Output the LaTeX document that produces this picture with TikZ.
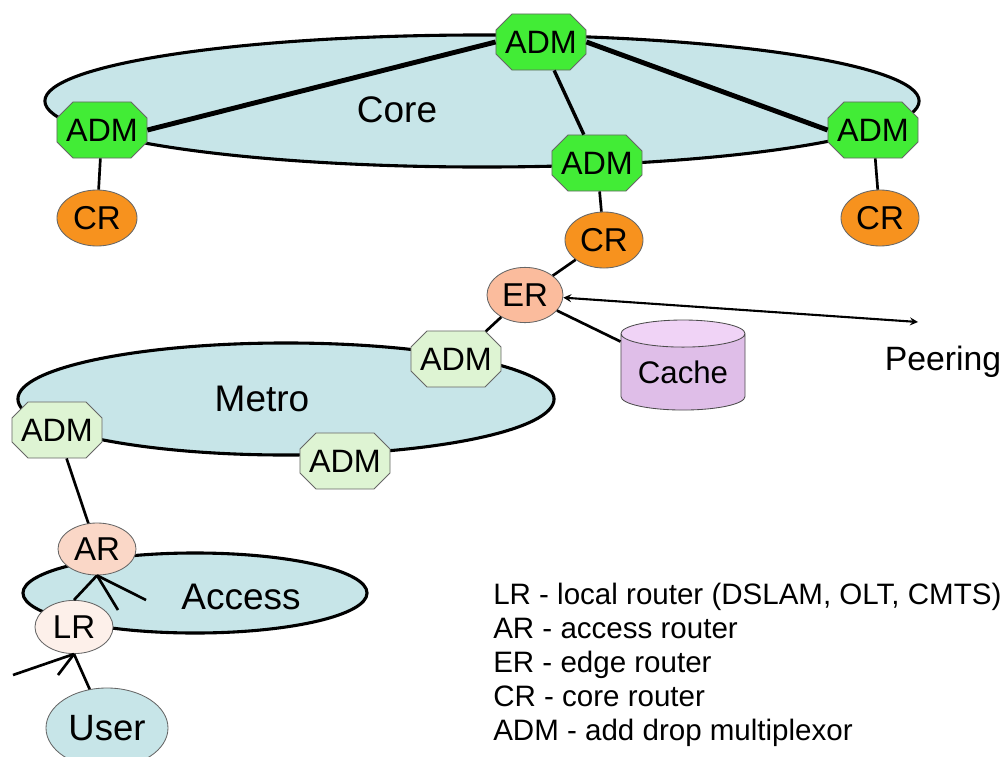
\documentclass[tikz,border=0pt]{standalone}
\usepackage{fontspec}
\setmainfont{Liberation Sans}
\usetikzlibrary{shapes.geometric,shapes.misc}
\definecolor{netblue}{HTML}{C7E5E8}
\definecolor{admgreen}{HTML}{42EC36}
\definecolor{metrogreen}{HTML}{DEF4D3}
\definecolor{crorange}{HTML}{F7921E}
\definecolor{ersalmon}{HTML}{FBBC9D}
\definecolor{arpink}{HTML}{FAD7C7}
\definecolor{lrpink}{HTML}{FDF0EA}
\definecolor{cachebody}{HTML}{DFBEE8}
\definecolor{cachetop}{HTML}{F0D3F6}

\begin{document}
\begin{tikzpicture}[x=0.025cm, y=-0.025cm,
	adm/.style={chamfered rectangle, chamfered rectangle xsep=0.2cm,
		chamfered rectangle ysep=0.2cm, draw=black!60, line width=0.6pt,
		minimum width=2.25cm, minimum height=1.4cm, inner sep=0pt,
		font=\fontsize{23}{23}\selectfont},
	router/.style={ellipse, draw=black!60, line width=0.6pt, inner sep=0pt,
		font=\fontsize{23.5}{23.5}\selectfont},
	net/.style={ellipse, draw, line width=2.2pt, fill=netblue, inner sep=0pt},
	netlabel/.style={font=\fontsize{26.3}{26.3}\selectfont}]

% frame %{{{2

	\useasboundingbox (0,0) rectangle (1001,757);

% networks %{{{2

	\node[net, minimum width=21.85cm, minimum height=3.3cm] (core) at (482,101) {};
	\node[net, minimum width=13.4cm, minimum height=2.8cm] (metro) at (286,399) {};
	\node[net, minimum width=8.6cm, minimum height=2cm] (access) at (195,593) {};

	\node[netlabel] (corelabel) at (397,110) {Core};
	\node[netlabel] (metrolabel) at (262,399) {Metro};
	\node[netlabel] (accesslabel) at (241,597) {Access};

% core nodes %{{{2

	\node[adm, fill=admgreen] (admT) at (541,42) {ADM};
	\node[adm, fill=admgreen] (admL) at (102,130) {ADM};
	\node[adm, fill=admgreen] (admM) at (597,163) {ADM};
	\node[adm, fill=admgreen] (admR) at (873,130) {ADM};

	\node[router, fill=crorange, minimum width=2cm, minimum height=1.4cm] (crL) at (97,218) {CR};
	\node[router, fill=crorange, minimum width=1.95cm, minimum height=1.4cm] (crM) at (604,240) {CR};
	\node[router, fill=crorange, minimum width=1.95cm, minimum height=1.4cm] (crR) at (880,218) {CR};

% edge, metro, access nodes %{{{2

	\node[router, fill=ersalmon, minimum width=1.9cm, minimum height=1.38cm] (ER) at (525,295) {ER};
	\node[cylinder, shape border rotate=90, aspect=0.3, draw=black!70, line width=0.6pt,
		cylinder uses custom fill, cylinder body fill=cachebody, cylinder end fill=cachetop,
		minimum width=3.1cm, minimum height=2.25cm, inner sep=0pt,
		font=\fontsize{22.2}{22.2}\selectfont] (cache) at (683,372) {Cache};

	\node[adm, fill=metrogreen] (admMT) at (456,359) {ADM};
	\node[adm, fill=metrogreen] (admML) at (57,430) {ADM};
	\node[adm, fill=metrogreen] (admMB) at (345,461) {ADM};

	\node[router, fill=arpink, minimum width=1.95cm, minimum height=1.3cm] (AR) at (97,549) {AR};
	\node[router, fill=lrpink, minimum width=1.95cm, minimum height=1.33cm] (LR) at (74,627) {LR};
	\node[net, line width=0.6pt, draw=black!60, minimum width=3.05cm, minimum height=2cm,
		font=\fontsize{26}{26}\selectfont] (user) at (107,728) {User};

	\node[font=\fontsize{24}{24}\selectfont] (peering) at (943,362) {Peering};

% free ends %{{{2

	\coordinate (peerend) at (918,322);
	\coordinate (arfanA) at (118,610);
	\coordinate (arfanB) at (146,600);
	\coordinate (lrfanA) at (13,675);
	\coordinate (lrfanB) at (58,675);

% links %{{{2

	\draw[line width=3.5pt] (admL.east) -- (admT.west);
	\draw[line width=3.5pt] (admT.east) -- (admR.west);
	\draw[line width=2.4pt] (admT) -- (admM);

	\draw[line width=1.9pt] (admL) -- (crL);
	\draw[line width=1.9pt] (admM) -- (crM);
	\draw[line width=1.9pt] (admR) -- (crR);

	\draw[line width=1.9pt] (crM) -- (ER);
	\draw[line width=1.9pt] (ER) -- (admMT);
	\draw[line width=1.9pt] (ER) -- (cache);
	\draw[<->, >=stealth, line width=1.5pt] (ER) -- (peerend);

	\draw[line width=1.9pt] (admML) -- (AR);
	\draw[line width=1.9pt] (AR.south) -- (LR.north);
	\draw[line width=1.9pt] (AR.south) -- (arfanA);
	\draw[line width=1.9pt] (AR.south) -- (arfanB);

	\draw[line width=1.9pt] (LR.south) -- (user);
	\draw[line width=1.9pt] (LR.south) -- (lrfanA);
	\draw[line width=1.9pt] (LR.south) -- (lrfanB);

% legend %{{{2

	\node[anchor=north west, align=left, inner sep=0pt,
		font=\fontsize{21}{24.2}\selectfont] (legend) at (493,583) {%
		LR - local router (DSLAM, OLT, CMTS)\\
		AR - access router\\
		ER - edge router\\
		CR - core router\\
		ADM - add drop multiplexor};

% closing %{{{2

\end{tikzpicture}
\end{document}
